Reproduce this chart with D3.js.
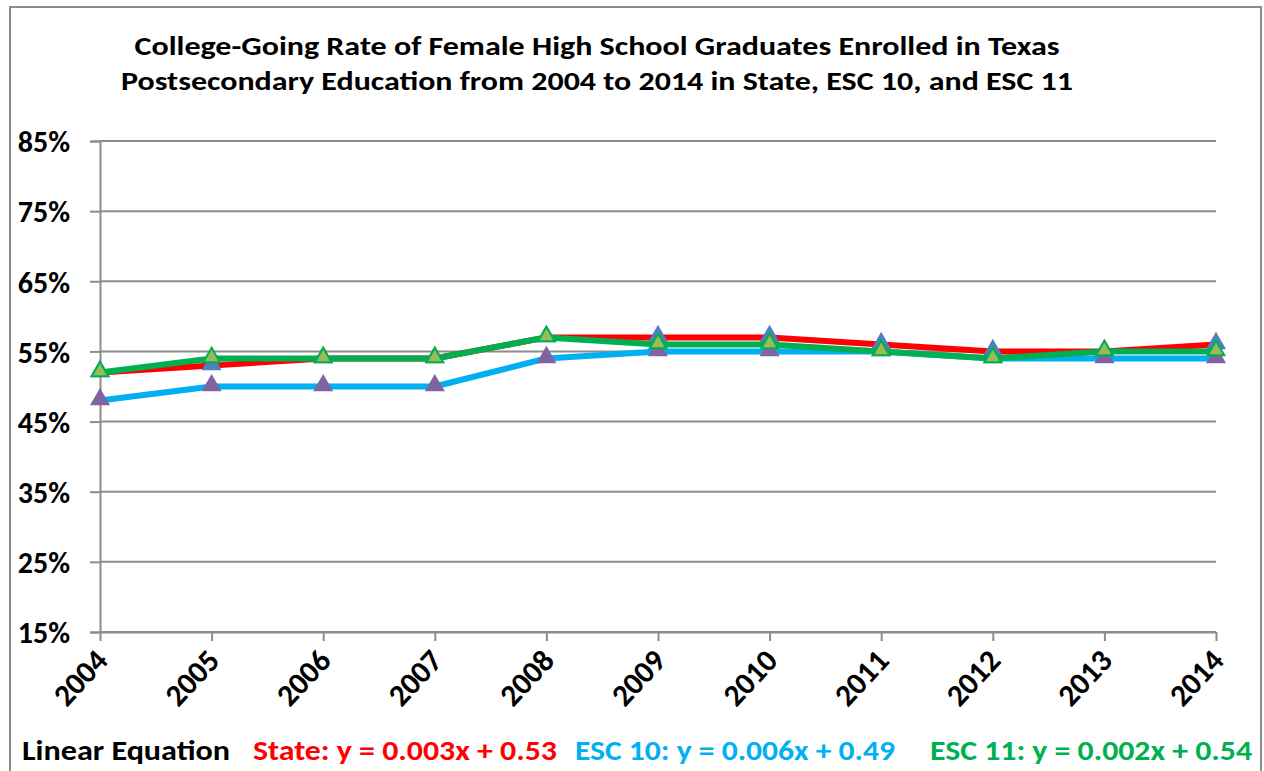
<!DOCTYPE html>
<html>
<head>
<meta charset="utf-8">
<script src="https://cdn.jsdelivr.net/npm/d3@7"></script>
<style>
  html, body { margin: 0; padding: 0; background: #fff; }
  svg { display: block; }
  text { font-family: Calibri, Carlito, Lato, "Open Sans", sans-serif; font-weight: bold; }
</style>
</head>
<body>
<svg id="chart" width="1264" height="771"></svg>
<script>
// Years on the category axis
const years = [2004, 2005, 2006, 2007, 2008, 2009, 2010, 2011, 2012, 2013, 2014];

// College-going rates (%) per series
const stateValues = [52, 53, 54, 54, 57, 57, 57, 56, 55, 55, 56];
const esc10Values = [48, 50, 50, 50, 54, 55, 55, 55, 54, 54, 54];
const esc11Values = [52, 54, 54, 54, 57, 56, 56, 55, 54, 55, 55];

// Value-axis ticks (%)
const yTicks = [15, 25, 35, 45, 55, 65, 75, 85];

const titleLines = [
  "College-Going Rate of Female High School Graduates Enrolled in Texas",
  "Postsecondary Education from 2004 to 2014 in State, ESC 10, and ESC 11"
];

const equations = [
  { text: "Linear Equation", color: "#000000", x: 22, w: 208 },
  { text: "State: y = 0.003x + 0.53", color: "#FF0000", x: 253, w: 304 },
  { text: "ESC 10: y = 0.006x + 0.49", color: "#00B0F0", x: 575, w: 320 },
  { text: "ESC 11: y = 0.002x + 0.54", color: "#00B050", x: 930, w: 322 }
];

const series = [
  { name: "State", values: stateValues, line: "#FF0000", fill: "#4F81BD", stroke: "#4F81BD" },
  { name: "ESC 10", values: esc10Values, line: "#00B0F0", fill: "#8064A2", stroke: "#8064A2" },
  { name: "ESC 11", values: esc11Values, line: "#00B050", fill: "#9BBB59", stroke: "#00B050" }
];

const svg = d3.select("#chart");
const fontStack = "Calibri, Carlito, Lato, sans-serif";

// Outer chart frame
svg.append("rect")
  .attr("x", 10).attr("y", 7)
  .attr("width", 1251).attr("height", 780)
  .attr("fill", "#fff")
  .attr("stroke", "#8c8c8c")
  .attr("stroke-width", 2);

const plot = { left: 100, right: 1216, top: 141, bottom: 632 };

const x = d3.scalePoint()
  .domain(years)
  .range([plot.left, plot.right]);

const y = d3.scaleLinear()
  .domain([15, 85])
  .range([plot.bottom, plot.top]);

// Title
const title = svg.append("g");
titleLines.forEach((t, i) => {
  title.append("text")
    .attr("x", 597)
    .attr("y", 55 + i * 35)
    .attr("text-anchor", "middle")
    .attr("font-size", 27)
    .attr("textLength", i === 0 ? 925 : 952)
    .attr("lengthAdjust", "spacingAndGlyphs")
    .attr("fill", "#000")
    .text(t);
});

// Horizontal gridlines
svg.append("g")
  .selectAll("line")
  .data(yTicks)
  .join("line")
  .attr("x1", plot.left).attr("x2", plot.right)
  .attr("y1", d => y(d)).attr("y2", d => y(d))
  .attr("stroke", "#8c8c8c")
  .attr("stroke-width", 2);

// Value axis
const yAxis = svg.append("g")
  .attr("transform", `translate(${plot.left},0)`)
  .call(d3.axisLeft(y).tickValues(yTicks).tickSize(10).tickPadding(20).tickFormat(d => d + "%"));
yAxis.attr("font-size", null).attr("font-family", null);
yAxis.select(".domain").attr("stroke", "#8c8c8c").attr("stroke-width", 2);
yAxis.selectAll(".tick line").attr("stroke", "#8c8c8c").attr("stroke-width", 2);
yAxis.selectAll(".tick text")
  .attr("x", -30)
  .attr("dy", "0.36em")
  .attr("fill", "#000")
  .style("font-size", "30px")
  .style("font-family", fontStack)
  .style("font-weight", "bold");

// Category axis
const xAxis = svg.append("g")
  .attr("transform", `translate(0,${plot.bottom})`)
  .call(d3.axisBottom(x).tickSize(9).tickSizeOuter(0));
xAxis.attr("font-size", null).attr("font-family", null);
xAxis.select(".domain").attr("stroke", "#8c8c8c").attr("stroke-width", 2);
xAxis.selectAll(".tick line").attr("stroke", "#8c8c8c").attr("stroke-width", 2);
xAxis.selectAll(".tick text")
  .attr("fill", "#000")
  .attr("text-anchor", "end")
  .attr("x", 0).attr("y", 0).attr("dy", 0)
  .attr("transform", "translate(9,30) rotate(-47)")
  .style("font-size", "31px")
  .style("font-family", fontStack)
  .style("font-weight", "bold");

// Series lines and triangle markers
const lineGen = d3.line()
  .x((d, i) => x(years[i]))
  .y(d => y(d));

const tri = d3.symbol().type(d3.symbolTriangle).size(120);

series.forEach(s => {
  const g = svg.append("g").attr("class", "series");
  g.append("path")
    .datum(s.values)
    .attr("d", lineGen)
    .attr("fill", "none")
    .attr("stroke", s.line)
    .attr("stroke-width", 6)
    .attr("stroke-linejoin", "round");
  g.selectAll("path.marker")
    .data(s.values)
    .join("path")
    .attr("class", "marker")
    .attr("d", tri)
    .attr("transform", (d, i) => `translate(${x(years[i])},${y(d) - 1})`)
    .attr("fill", s.fill)
    .attr("stroke", s.stroke)
    .attr("stroke-width", 2);
});

// Trend-line equations along the bottom
svg.append("g")
  .selectAll("text")
  .data(equations)
  .join("text")
  .attr("x", d => d.x)
  .attr("y", 760)
  .attr("font-size", 28)
  .attr("fill", d => d.color)
  .attr("textLength", d => d.w)
  .attr("lengthAdjust", "spacingAndGlyphs")
  .text(d => d.text);
</script>
</body>
</html>
